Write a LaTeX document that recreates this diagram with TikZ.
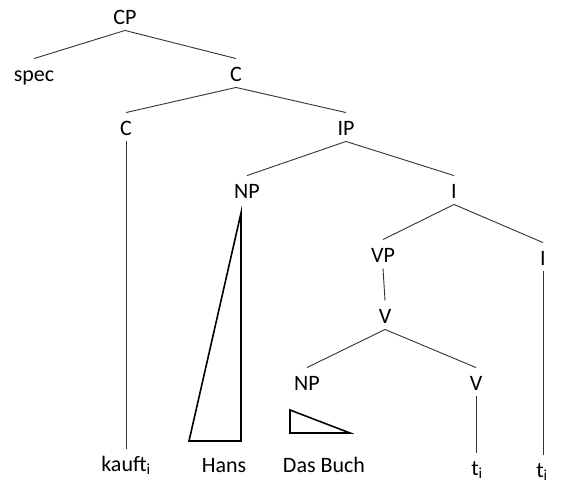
\documentclass[tikz,border=0pt]{standalone}
\usepackage{fontspec}
\setmainfont{Carlito}
\usepackage{tikz}

\begin{document}
\begin{tikzpicture}
            [x=1pt,y=-1pt,line width=.9pt,draw=black!80,
             every node/.style={anchor=base,font=\fontsize{22}{26}\selectfont,
                                text height=19pt,text depth=3pt,inner sep=3pt}]
            \useasboundingbox (0,0) rectangle (561,483);
            \node (cp) at (125,24) {CP};
            \node (spec) at (34,81) {spec};
            \node (cbar) at (236,81) {C};
            \node (c) at (126,135) {C};
            \node (ip) at (346,135) {IP};
            \node (np) at (247,198) {NP};
            \node (ibar) at (454,198) {I};
            \node (vp) at (383,262) {VP};
            \node (vbar) at (385,323) {V};
            \node (i) at (543,265) {I};
            \node (np2) at (307,390) {NP};
            \node (v) at (476,390) {V};
            \node (kauft) at (126,471) {kauft\textsubscript{i}};
            \node (hans) at (224,472) {Hans};
            \node (buch) at (324,472) {Das Buch};
            \node (t1) at (477,475) {t\textsubscript{i}};
            \node (t2) at (542,477) {t\textsubscript{i}};
            % the tree
            \draw (cp.south) -- (spec.north);
            \draw (cp.south) -- (cbar.north);
            \draw (cbar.south) -- (c.north);
            \draw (cbar.south) -- (ip.north);
            \draw (ip.south) -- (np.north);
            \draw (ip.south) -- (ibar.north);
            \draw (ibar.south) -- (vp.north);
            \draw (ibar.south) -- (i.north);
            \draw (vp.south) -- (vbar.north);
            \draw (vbar.south) -- (np2.north);
            \draw (vbar.south) -- (v.north);
            % traces
            \draw (c.south) -- (c.south |- kauft.north);
            \draw (v.south) -- (v.south |- t1.north);
            \draw (i.south) -- (i.south |- t2.north);
            % triangles
            \draw[line width=1.6pt,draw=black] (241,213) -- (189,441) -- (241,441) -- cycle;
            \draw[line width=1.6pt,draw=black] (290,410) -- (290,433) -- (350,433) -- cycle;
        \end{tikzpicture}
\end{document}
